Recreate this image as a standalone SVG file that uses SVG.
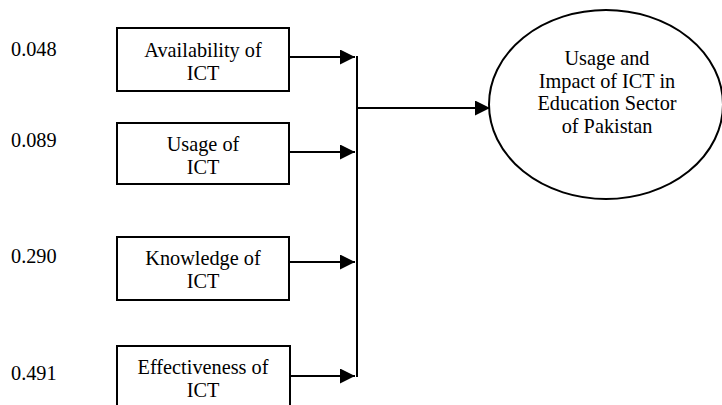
<svg xmlns="http://www.w3.org/2000/svg" width="722" height="405" viewBox="0 0 722 405">
  <style>
    text { font-family: "Liberation Serif", "Times New Roman", serif; font-size: 20.3px; fill: #000; }
    .c { text-anchor: middle; }
    .box { fill: #fff; stroke: #000; stroke-width: 2; }
    .line { fill: none; stroke: #000; stroke-width: 2; }
  </style>
  <defs>
    <marker id="arrow" viewBox="0 0 15 15" refX="15" refY="7.5" markerWidth="15" markerHeight="15" markerUnits="userSpaceOnUse" orient="auto">
      <path d="M0,0 L15,7.5 L0,15 z" fill="#000"/>
    </marker>
  </defs>
  <rect width="722" height="405" fill="#fff"/>

  <g id="weights">
    <text x="11" y="56">0.048</text>
    <text x="11" y="147">0.089</text>
    <text x="11" y="263">0.290</text>
    <text x="11" y="380">0.491</text>
  </g>

  <g id="node-availability">
    <rect class="box" x="117" y="28" width="172" height="63"/>
    <text class="c" x="203" y="57">Availability of</text>
    <text class="c" x="203" y="80">ICT</text>
  </g>
  <g id="node-usage">
    <rect class="box" x="117" y="123" width="172" height="61"/>
    <text class="c" x="203" y="151">Usage of</text>
    <text class="c" x="203" y="174">ICT</text>
  </g>
  <g id="node-knowledge">
    <rect class="box" x="117" y="237" width="172" height="63"/>
    <text class="c" x="203" y="265">Knowledge of</text>
    <text class="c" x="203" y="288">ICT</text>
  </g>
  <g id="node-effectiveness">
    <rect class="box" x="117" y="346" width="173" height="70"/>
    <text class="c" x="203" y="374">Effectiveness of</text>
    <text class="c" x="203" y="397">ICT</text>
  </g>
  <g id="node-outcome">
    <ellipse class="box" cx="606" cy="104.5" rx="117" ry="94.5"/>
    <text class="c" x="607" y="65">Usage and</text>
    <text class="c" x="607" y="88">Impact of ICT in</text>
    <text class="c" x="607" y="110">Education Sector</text>
    <text class="c" x="607" y="133">of Pakistan</text>
  </g>

  <g id="connectors">
    <line class="line" x1="289" y1="57" x2="355" y2="57" marker-end="url(#arrow)"/>
    <line class="line" x1="289" y1="152" x2="355" y2="152" marker-end="url(#arrow)"/>
    <line class="line" x1="289" y1="262" x2="355" y2="262" marker-end="url(#arrow)"/>
    <line class="line" x1="290" y1="376" x2="355" y2="376" marker-end="url(#arrow)"/>
    <line class="line" x1="357" y1="56" x2="357" y2="377"/>
    <line class="line" x1="357" y1="108" x2="490" y2="108" marker-end="url(#arrow)"/>
  </g>
</svg>
